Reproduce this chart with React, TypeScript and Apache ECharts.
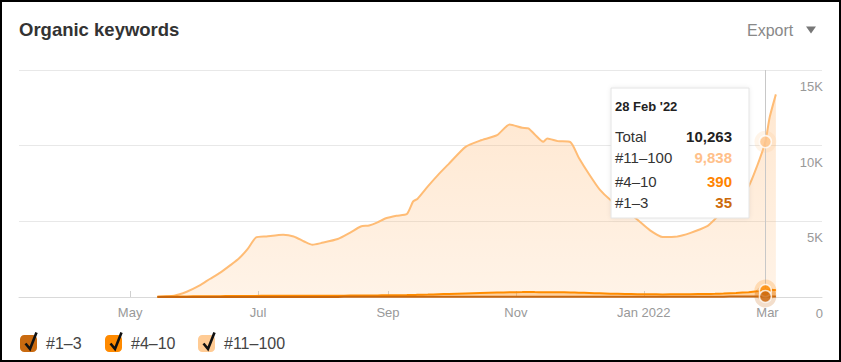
import React, { useEffect, useRef } from "react";
import * as echarts from "echarts";

const seriesNames = ["#1–3", "#4–10", "#11–100"];
const dates = [
  "2021-05-14", "2021-05-22", "2021-05-28", "2021-06-03", "2021-06-08", "2021-06-13",
  "2021-06-18", "2021-06-22", "2021-06-26", "2021-06-30", "2021-07-05", "2021-07-13",
  "2021-07-18", "2021-07-23", "2021-07-27", "2021-07-31", "2021-08-08", "2021-08-14",
  "2021-08-19", "2021-08-23", "2021-08-27", "2021-08-31", "2021-09-05", "2021-09-10",
  "2021-09-13", "2021-09-15", "2021-09-20", "2021-09-25", "2021-09-30", "2021-10-08",
  "2021-10-15", "2021-10-23", "2021-10-29", "2021-11-04", "2021-11-07", "2021-11-10",
  "2021-11-14", "2021-11-16", "2021-11-21", "2021-11-27", "2021-12-01", "2021-12-06",
  "2021-12-11", "2021-12-16", "2021-12-23", "2021-12-29", "2022-01-04", "2022-01-10",
  "2022-01-17", "2022-01-23", "2022-01-31", "2022-02-04", "2022-02-08", "2022-02-14",
  "2022-02-20", "2022-02-24", "2022-02-28", "2022-03-02", "2022-03-05",
];
const pos1to3 = [
  2, 3, 3, 4, 4, 5, 5, 5, 6, 6, 6, 7, 7, 7, 7, 8, 8, 9, 9, 10, 10, 11, 11, 12, 12, 13, 14, 15, 16,
  18, 20, 22, 23, 24, 24, 23, 23, 22, 22, 21, 20, 19, 18, 17, 16, 16, 16, 17, 18, 19, 21, 22, 24,
  27, 30, 32, 35, 36, 38,
];
const pos4to10 = [
  20, 28, 35, 42, 48, 52, 56, 60, 64, 68, 70, 72, 72, 70, 70, 72, 76, 82, 86, 90, 95, 100, 105,
  115, 125, 130, 145, 165, 185, 220, 250, 275, 290, 300, 305, 300, 295, 295, 290, 280, 265, 245,
  225, 205, 185, 170, 160, 155, 158, 165, 180, 190, 205, 240, 290, 340, 390, 410, 430,
];
const pos11to100 = [
  0, 59, 312, 704, 1138, 1553, 2059, 2495, 3090, 3856, 3924, 4031, 3921, 3593, 3373, 3480, 3746,
  4169, 4565, 4630, 4825, 5089, 5254, 5353, 6183, 6337, 7151, 7910, 8599, 9682, 10070, 10393,
  11087, 10856, 10811, 10417, 9942, 10163, 9988, 9929, 8915, 7826, 6847, 6208, 5549, 4914, 4224,
  3788, 3824, 4036, 4459, 4938, 5471, 6133, 6990, 8268, 9838, 11404, 12922,
];
const highlightDate = "2022-02-28";
const xTickDates = ["2021-05-01", "2021-07-01", "2021-09-01", "2021-11-01", "2022-01-01", "2022-03-01"];
const xRange = ["2021-03-09", "2022-03-27"];
const yTicks = [0, 5000, 10000, 15000];

const lineColors = ["#c8670f", "#ff8c00", "#ffbc75"];
const boxColors = ["#c96a10", "#ff8a00", "#ffcb94"];
const valueColors = ["#cc6a0a", "#ff8400", "#ffc08a"];
const FONT = "'Liberation Sans', Arial, sans-serif";
const MONTHS = ["Jan", "Feb", "Mar", "Apr", "May", "Jun", "Jul", "Aug", "Sep", "Oct", "Nov", "Dec"];

function ts(s: string): number {
  const [y, m, d] = s.split("-").map(Number);
  return new Date(y, m - 1, d).getTime();
}
const fmt = (n: number) => n.toLocaleString("en-US");

export default function App() {
  const ref = useRef<HTMLDivElement>(null);
  useEffect(() => {
    document.body.style.margin = "0";
    const chart = echarts.init(ref.current!, null, { renderer: "svg" });
    const values = [pos1to3, pos4to10, pos11to100];
    // cumulative (stacked) values, bottom to top
    const stacked = values.map((_, i) => dates.map((_, k) => values.slice(0, i + 1).reduce((s, arr) => s + arr[k], 0)));
    const hi = dates.indexOf(highlightDate);
    const hts = ts(highlightDate);
    const stackVals = stacked.map((arr) => arr[hi]);
    const total = stackVals[2];
    const [hy, hm, hd] = highlightDate.split("-").map(Number);
    const hiLabel = `${hd} ${MONTHS[hm - 1]} '${String(hy).slice(2)}`;

    const lineSeries = seriesNames.map((name, i) => ({
      name,
      type: "line",
      smooth: 0.2,
      showSymbol: false,
      symbol: "none",
      data: dates.map((d, k) => [ts(d), stacked[i][k]]),
      lineStyle: { color: lineColors[i], width: 2 },
      itemStyle: { color: lineColors[i] },
      areaStyle:
        i === 2
          ? {
              color: new echarts.graphic.LinearGradient(0, 0, 0, 1, [
                { offset: 0, color: "rgba(255,178,102,0.44)" },
                { offset: 1, color: "rgba(255,178,102,0.22)" },
              ]),
            }
          : { color: lineColors[i], opacity: 0.3 },
      z: 5 - i,
      markLine:
        i === 2
          ? {
              silent: true,
              symbol: "none",
              label: { show: false },
              lineStyle: { color: "#c8c8c8", width: 1, type: "solid" },
              data: [{ xAxis: hts }],
            }
          : undefined,
    }));

    const pointOrder = [2, 1, 0];
    const haloSeries = {
      type: "scatter",
      silent: true,
      symbolSize: 22,
      data: pointOrder.map((i) => ({
        value: [hts, stackVals[i]],
        itemStyle: { color: boxColors[i], opacity: 0.22 },
      })),
      z: 8,
    };
    const dotSeries = {
      type: "scatter",
      silent: true,
      symbolSize: 12,
      data: pointOrder.map((i) => ({
        value: [hts, stackVals[i]],
        itemStyle: { color: i === 2 ? "#ffc48a" : lineColors[i], borderColor: "#fff", borderWidth: 1.5 },
      })),
      z: 9,
    };

    const legendLefts = [20, 105, 198];
    const legends = seriesNames.map((name, i) => ({
      data: [{ name, itemStyle: { color: boxColors[i], borderWidth: 0 }, lineStyle: { width: 0 } }],
      left: legendLefts[i],
      top: 335,
      padding: 0,
      icon: "roundRect",
      itemWidth: 17,
      itemHeight: 17,
      selectedMode: false,
      textStyle: { fontFamily: FONT, fontSize: 16, color: "#444", padding: [0, 0, 0, 4] },
    }));
    const checks = legendLefts.map((x0) => ({
      type: "polyline",
      shape: { points: [[x0 + 5.5, 343.5], [x0 + 10, 349], [x0 + 16.5, 332.5]] },
      style: { stroke: "#111", lineWidth: 2.6, fill: "none", lineJoin: "miter" },
      z: 100,
      zlevel: 1,
    }));

    const tipRows = [
      { label: "Total", value: fmt(total), color: "#222", y: 48.7 },
      { label: seriesNames[2], value: fmt(pos11to100[hi]), color: valueColors[2], y: 69.7 },
      { label: seriesNames[1], value: fmt(pos4to10[hi]), color: valueColors[1], y: 93 },
      { label: seriesNames[0], value: fmt(pos1to3[hi]), color: valueColors[0], y: 114.3 },
    ];
    const tooltip = {
      type: "group",
      x: 611,
      y: 88,
      z: 100,
      zlevel: 1,
      children: [
        {
          type: "rect",
          z: 100,
          zlevel: 1,
          shape: { x: 0, y: 0, width: 138, height: 130 },
          style: {
            fill: "#fff",
            stroke: "#e4e4e4",
            lineWidth: 1,
            shadowBlur: 4,
            shadowColor: "rgba(0,0,0,0.08)",
          },
        },
        {
          type: "text",
          z: 101,
          zlevel: 1,
          x: 4,
          y: 18.7,
          style: { text: hiLabel, fontFamily: FONT, fontSize: 13, fontWeight: "bold", fill: "#222", verticalAlign: "middle" },
        },
        ...tipRows.flatMap((r) => [
          {
            type: "text",
            z: 101,
            zlevel: 1,
            x: 4,
            y: r.y,
            style: { text: r.label, fontFamily: FONT, fontSize: 15, fill: "#333", verticalAlign: "middle" },
          },
          {
            type: "text",
            z: 101,
            zlevel: 1,
            x: 121,
            y: r.y,
            style: {
              text: r.value,
              fontFamily: FONT,
              fontSize: 15,
              fontWeight: "bold",
              fill: r.color,
              align: "right",
              verticalAlign: "middle",
            },
          },
        ]),
      ],
    };

    chart.setOption({
      animation: false,
      backgroundColor: "#fff",
      title: {
        text: "Organic keywords",
        left: 19,
        top: 20,
        padding: 0,
        textStyle: { fontFamily: FONT, fontSize: 18.5, fontWeight: "bold", color: "#333" },
      },
      legend: legends,
      grid: { left: 19, right: 19, top: 70, bottom: 65, containLabel: false },
      xAxis: {
        type: "value",
        min: ts(xRange[0]),
        max: ts(xRange[1]),
        axisLine: { show: true, lineStyle: { color: "#d9d9d9", width: 1 } },
        axisTick: {
          show: true,
          inside: true,
          length: 6,
          lineStyle: { color: "#d0d0d0" },
          customValues: xTickDates.map(ts),
        },
        axisLabel: {
          customValues: xTickDates.map(ts),
          color: "#999",
          fontFamily: FONT,
          fontSize: 13,
          margin: 9,
          formatter: (v: number) => {
            const d = new Date(v);
            const m = d.getMonth();
            return m === 0 ? `${MONTHS[m]} ${d.getFullYear()}` : MONTHS[m];
          },
        },
        splitLine: { show: false },
      },
      yAxis: {
        type: "value",
        position: "right",
        min: yTicks[0],
        max: yTicks[yTicks.length - 1],
        interval: yTicks[1] - yTicks[0],
        axisLine: { show: false },
        axisTick: { show: false },
        splitLine: { show: true, lineStyle: { color: "#e8e8e8", width: 1 } },
        axisLabel: {
          inside: true,
          margin: -1,
          align: "right",
          verticalAlign: "top",
          padding: [10, 0, 0, 0],
          color: "#999",
          fontFamily: FONT,
          fontSize: 13,
          showMinLabel: true,
          showMaxLabel: true,
          formatter: (v: number) => (v === 0 ? "0" : `${v / 1000}K`),
        },
      },
      series: [...lineSeries, haloSeries, dotSeries],
      graphic: [
        {
          type: "text",
          x: 747,
          y: 30,
          style: { text: "Export", fontFamily: FONT, fontSize: 16, fill: "#888", verticalAlign: "middle" },
        },
        {
          type: "polygon",
          shape: { points: [[806, 26.5], [816, 26.5], [811, 33.5]] },
          style: { fill: "#777" },
        },
        ...checks,
        tooltip,
        {
          type: "rect",
          shape: { x: 1, y: 1, width: 839, height: 360 },
          style: { fill: "none", stroke: "#000", lineWidth: 2 },
          z: 200,
          zlevel: 1,
        },
      ],
    });
    return () => chart.dispose();
  }, []);
  return <div ref={ref} style={{ width: 841, height: 362 }} />;
}
